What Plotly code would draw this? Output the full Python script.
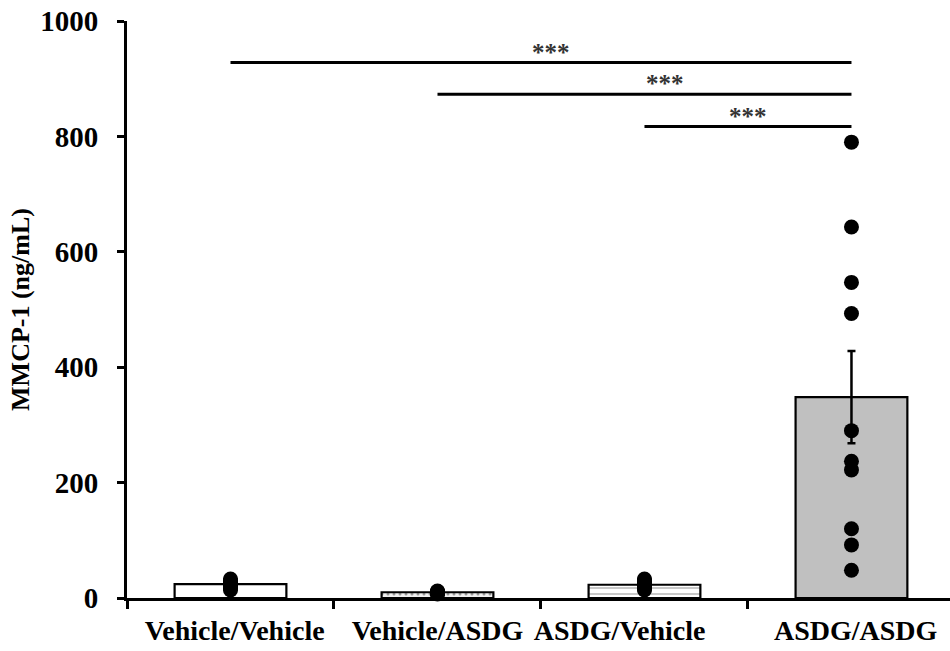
import plotly.graph_objects as go

categories = ["Vehicle/Vehicle", "Vehicle/ASDG", "ASDG/Vehicle", "ASDG/ASDG"]
means = [24, 10, 23, 348]
sems = [2.5, 1, 2.5, 80]

points_vv = [33, 30, 28, 25, 22, 20, 17, 14]
points_va = [12, 11, 10, 10, 9, 8, 8, 7]
points_av = [33, 31, 28, 25, 22, 19, 16, 14]
points_aa = [790, 643, 547, 493, 290, 237, 222, 120, 92, 48]
group_points = [points_vv, points_va, points_av, points_aa]

bar_fill = ["#ffffff", "#f0f0f0", "#ffffff", "#c0c0c0"]
bar_pattern = ["", ".", "-", ""]

# significance comparisons: (group a, group b), bracket level, label
sig_pairs = [(0, 3), (1, 3), (2, 3)]
sig_levels = [928, 873, 817]
sig_labels = ["***", "***", "***"]
sig_label_shift = [0.05, 0.1, 0.0]

yticks = [0, 200, 400, 600, 800, 1000]
label_shift = [0.02, 0.0, -0.12, 0.02]

FONT = "Liberation Serif"
idx = list(range(len(categories)))

fig = go.Figure()
fig.add_trace(go.Bar(
    x=idx, y=means, width=0.54,
    marker=dict(color=bar_fill, line=dict(color="black", width=2.2),
                pattern=dict(shape=bar_pattern, fgcolor="#b0b0b0", size=6, solidity=0.2)),
    error_y=dict(type="data", array=sems, visible=True, color="black", thickness=2.5, width=4),
    showlegend=False,
))

px_, py_ = [], []
for i, pts in enumerate(group_points):
    px_ += [i] * len(pts)
    py_ += pts
fig.add_trace(go.Scatter(
    x=px_, y=py_, mode="markers",
    marker=dict(color="black", size=15), showlegend=False, cliponaxis=False,
))

for (a, b), lvl, lab, sh in zip(sig_pairs, sig_levels, sig_labels, sig_label_shift):
    fig.add_shape(type="line", x0=a, x1=b, y0=lvl, y1=lvl, xref="x", yref="y",
                  line=dict(color="black", width=3))
    fig.add_annotation(x=(a + b) / 2 + sh, y=lvl, text=lab, showarrow=False,
                       xref="x", yref="y", yanchor="bottom", yshift=-5,
                       font=dict(family=FONT, size=25, color="#333333", weight="bold"))

fig.update_layout(
    width=950, height=651,
    margin=dict(l=127, r=0, t=21, b=53),
    plot_bgcolor="white", paper_bgcolor="white",
    bargap=0.46,
)
fig.update_xaxes(
    range=[-0.5, 3.476],
    tickmode="array",
    tickvals=[i + s for i, s in zip(idx, label_shift)],
    ticktext=categories,
    ticks="", ticklen=0,
    ticklabelstandoff=5,
    tickfont=dict(family=FONT, size=28, color="black", weight="bold"),
    showline=True, linecolor="black", linewidth=3,
    showgrid=False, zeroline=False,
    minor=dict(tickmode="array", tickvals=[-0.5, 0.5, 1.5, 2.5], ticks="outside",
               ticklen=8, tickwidth=3, tickcolor="black", showgrid=False),
)
fig.update_yaxes(
    range=[0, 1000],
    tickmode="array", tickvals=yticks,
    ticks="outside", ticklen=7, tickwidth=3, tickcolor="black",
    ticklabelstandoff=13,
    tickfont=dict(family=FONT, size=29, color="black", weight="bold"),
    showline=True, linecolor="black", linewidth=3,
    showgrid=False, zeroline=False,
    title=dict(text="MMCP-1 (ng/mL)", standoff=4,
               font=dict(family=FONT, size=26, color="black", weight="bold")),
)

fig.write_html("out.html")
